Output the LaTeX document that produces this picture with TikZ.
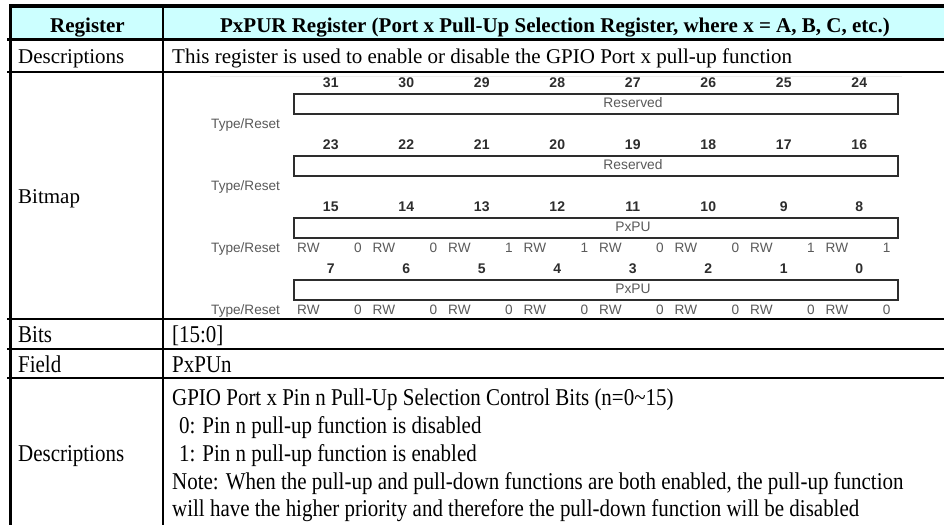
\documentclass[tikz,border=0pt]{standalone}
\usepackage{fontspec}
\setmainfont{Liberation Serif}
\newfontfamily\tallserif[FakeStretch=0.87]{Liberation Serif}
\newfontfamily\bmfont{Liberation Sans}
\definecolor{hdrblue}{RGB}{204,255,255}
\definecolor{bmnum}{RGB}{45,45,45}
\definecolor{bmgray}{RGB}{90,90,90}
\begin{document}
\begin{tikzpicture}[x=1pt,y=-1pt,
  cell/.style={font=\fontsize{21}{25}\selectfont, anchor=base west, inner sep=0pt},
  tcell/.style={font=\tallserif\fontsize{24.1}{28}\selectfont, anchor=base west, inner sep=0pt},
  hdr/.style={font=\fontsize{21}{25}\selectfont\bfseries, anchor=base, inner sep=0pt},
  bitnum/.style={font=\bmfont\bfseries\fontsize{14}{16}\selectfont, text=bmnum, inner sep=0pt, anchor=base},
  bmtxt/.style={font=\bmfont\fontsize{13.6}{15}\selectfont, text=bmgray, inner sep=0pt, anchor=base west},
  bmval/.style={font=\bmfont\fontsize{13.6}{15}\selectfont, text=bmgray, inner sep=0pt, anchor=base east},
  fieldname/.style={font=\bmfont\fontsize{13.8}{15}\selectfont, text=bmgray, inner sep=0pt, anchor=base},
  regbox/.style={draw=bmnum, line width=2.2pt, inner sep=0pt, minimum width=604pt, minimum height=20pt, anchor=north west},
  rowrule/.style={line width=1.8pt},
]
\useasboundingbox (0,0) rectangle (944,525);
\fill[white] (0,0) rectangle (944,525);

% header band and outer frame
\fill[hdrblue] (12,8) rectangle (944,38);
\fill[black] (9,4) rectangle (944,8);
\fill[black] (9,4) rectangle (12,525);
\draw[line width=2.6pt] (7,39.3) -- (944,39.3);
\draw[rowrule] (7,72) -- (944,72);
\draw[rowrule] (7,319) -- (944,319);
\draw[rowrule] (7,349) -- (944,349);
\draw[rowrule] (7,378) -- (944,378);
\draw[line width=1.8pt] (163,8) -- (163,525);

% header row
\node[hdr] (hreg) at (87.5,32) {Register};
\node[hdr] (htitle) at (555,32) {PxPUR Register (Port x Pull-Up Selection Register, where x = A, B, C, etc.)};

% description row
\node[cell] (ldesc) at (18,63) {Descriptions};
\node[cell] (tdesc) at (172,63) {This register is used to enable or disable the GPIO Port x pull-up function};

% bitmap row
\node[cell] (lbitmap) at (18,203) {Bitmap};
\draw[black!7, line width=0.8pt] (210,76) -- (902,76);
\foreach \r/\fname in {0/Reserved,1/Reserved,2/PxPU,3/PxPU}{
  \node[regbox] (box\r) at (293,{93+62*\r}) {};
  \node[fieldname] (fname\r) at (633,{107.5+62*\r}) {\fname};
  \node[bmtxt] (tr\r) at (211,{128+62*\r}) {Type/Reset};
  \foreach \i in {0,...,7}{
    \pgfmathtruncatemacro\bit{31-8*\r-\i}
    \node[bitnum] (bit\bit) at ({330.75+75.5*\i},{87+62*\r}) {\bit};
  }
}
% type and reset values of bits 15..0
\foreach \i/\v in {0/0,1/0,2/1,3/1,4/0,5/0,6/1,7/1}{
  \node[bmtxt] (rwa\i) at ({297+75.5*\i},252) {RW};
  \node[bmval] (rva\i) at ({362+75.5*\i},252) {\v};
}
\foreach \i in {0,...,7}{
  \node[bmtxt] (rwb\i) at ({297+75.5*\i},314) {RW};
  \node[bmval] (rvb\i) at ({362+75.5*\i},314) {0};
}

% bits and field rows
\node[tcell] (lbits) at (18,342) {Bits};
\node[tcell] (tbits) at (172,342) {[15:0]};
\node[tcell] (lfield) at (18,372) {Field};
\node[tcell] (tfield) at (172,372) {PxPUn};

% field description row
\node[tcell] (ldesc2) at (18,461) {Descriptions};
\node[tcell] (d1) at (172,405) {GPIO Port x Pin n Pull-Up Selection Control Bits (n=0\textasciitilde15)};
\node[tcell] (d2) at (179,433) {0: Pin n pull-up function is disabled};
\node[tcell] (d3) at (179,461) {1: Pin n pull-up function is enabled};
\node[tcell] (d4) at (172,489) {Note: When the pull-up and pull-down functions are both enabled, the pull-up function};
\node[tcell] (d5) at (172,516) {will have the higher priority and therefore the pull-down function will be disabled};
\end{tikzpicture}
\end{document}
